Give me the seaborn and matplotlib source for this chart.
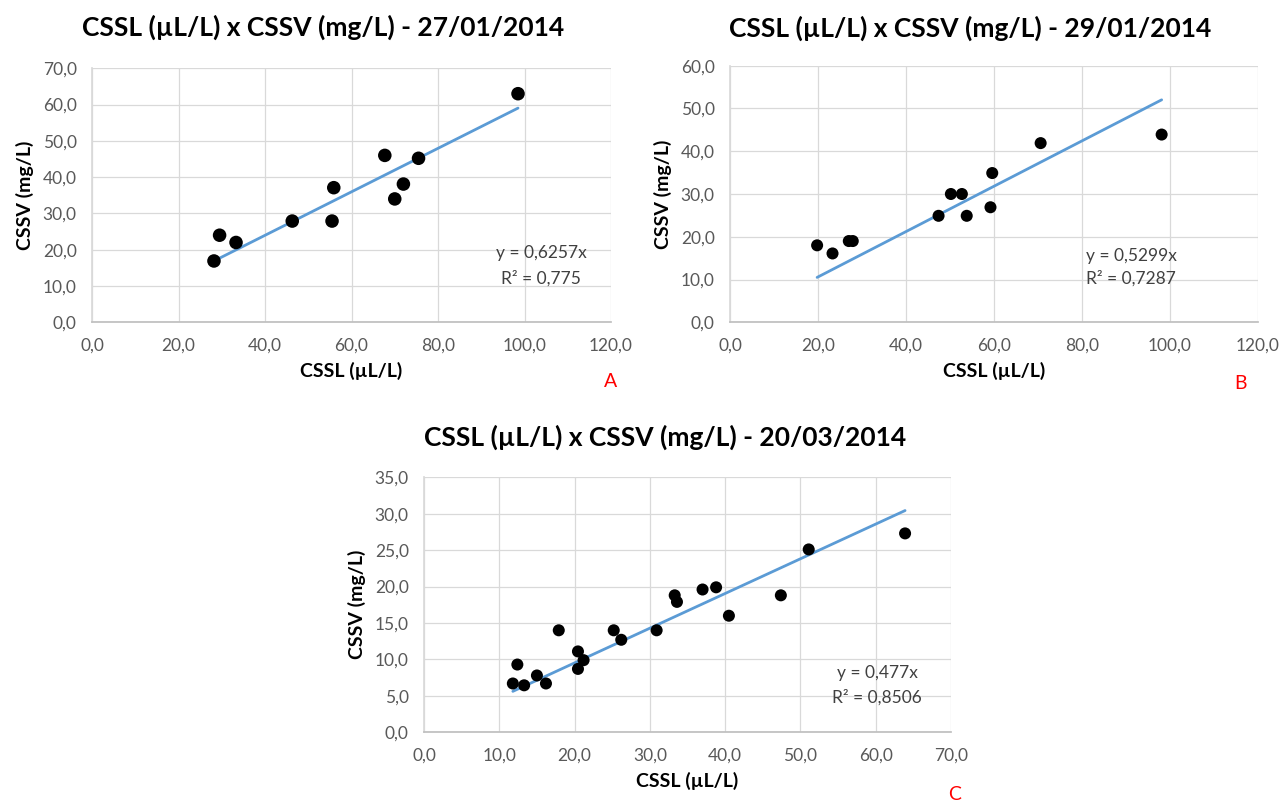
import numpy as np
import pandas as pd
import matplotlib
matplotlib.use("Agg")
import matplotlib.pyplot as plt
from matplotlib.ticker import MultipleLocator, FuncFormatter
import seaborn as sns

# ── data ─────────────────────────────────────────────────────────────────────
cssl_a = [28.2, 29.5, 33.3, 46.3, 55.5, 55.9, 67.7, 70.0, 72.0, 75.5, 98.5]
cssv_a = [16.9, 24.0, 22.0, 27.9, 27.9, 37.1, 46.0, 34.0, 38.1, 45.2, 63.0]

cssl_b = [19.8, 23.3, 27.0, 27.9, 47.4, 50.2, 52.7, 53.8, 59.2, 59.6, 70.6, 98.1]
cssv_b = [18.0, 16.1, 19.0, 19.0, 24.9, 30.0, 30.0, 24.9, 26.9, 34.9, 41.9, 43.9]

cssl_c = [11.8, 12.4, 13.3, 15.0, 16.2, 17.9, 20.45, 20.45, 21.2, 25.2, 26.2,
          30.9, 33.3, 33.6, 37.0, 38.8, 40.5, 47.4, 51.1, 63.9]
cssv_c = [6.7, 9.3, 6.45, 7.8, 6.7, 14.0, 11.1, 8.7, 9.9, 14.0, 12.7,
          14.0, 18.8, 17.9, 19.6, 19.9, 16.0, 18.8, 25.1, 27.3]

titles = ["CSSL (µL/L) x CSSV (mg/L) - 27/01/2014",
          "CSSL (µL/L) x CSSV (mg/L) - 29/01/2014",
          "CSSL (µL/L) x CSSV (mg/L) - 20/03/2014"]
equations = ["y = 0,6257x", "y = 0,5299x", "y = 0,477x"]
r2_labels = ["R² = 0,775", "R² = 0,7287", "R² = 0,8506"]
letters = ["A", "B", "C"]

sns.set_theme(style="whitegrid")
plt.rcParams["font.family"] = ["Lato", "DejaVu Sans"]

TICK = "#595959"
BLUE = "#5B9BD5"


def comma(v, _):
    return f"{v:.1f}".replace(".", ",")


def draw_panel(ax, x, y, xmax, ymax, xstep, ystep, eq, r2, eq_pos, msize):
    df = pd.DataFrame({"CSSL": x, "CSSV": y})
    # trendline through the origin, as Excel draws it
    slope = np.sum(df.CSSL * df.CSSV) / np.sum(df.CSSL ** 2)
    fit = pd.DataFrame({"CSSL": [df.CSSL.min(), df.CSSL.max()]})
    fit["CSSV"] = slope * fit.CSSL
    sns.lineplot(data=fit, x="CSSL", y="CSSV", ax=ax, color=BLUE,
                 linewidth=2.0, zorder=2)
    sns.scatterplot(data=df, x="CSSL", y="CSSV", ax=ax, color="black",
                    s=msize, edgecolor="none", zorder=3)

    ax.set_xlim(0, xmax); ax.set_ylim(0, ymax)
    ax.xaxis.set_major_locator(MultipleLocator(xstep))
    ax.yaxis.set_major_locator(MultipleLocator(ystep))
    ax.xaxis.set_major_formatter(FuncFormatter(comma))
    ax.yaxis.set_major_formatter(FuncFormatter(comma))
    ax.tick_params(axis="both", length=0, labelsize=12.5, colors=TICK, pad=11)
    ax.grid(True, color="#D9D9D9", linewidth=0.9)
    for side in ["top", "right"]:
        ax.spines[side].set_visible(False)
    ax.spines["left"].set_color("#D9D9D9")
    ax.spines["bottom"].set_color("#BFBFBF")
    ax.set_xlabel("CSSL (µL/L)", fontsize=14, fontweight="bold", color="black",
                  labelpad=6)
    ax.set_ylabel("CSSV (mg/L)", fontsize=14, fontweight="bold", color="black",
                  labelpad=6)

    ex, ey1, ey2 = eq_pos
    ax.text(ex, ey1, eq, transform=ax.transAxes, ha="center", va="center",
            fontsize=12.5, color="#404040")
    ax.text(ex, ey2, r2, transform=ax.transAxes, ha="center", va="center",
            fontsize=12.5, color="#404040")


W, H = 1280, 801
fig = plt.figure(figsize=(W / 100, H / 100), dpi=100)

ax_a = fig.add_axes([92 / W, 1 - 322.3 / H, 519 / W, 254 / H])
ax_b = fig.add_axes([730 / W, 1 - 322.3 / H, 528 / W, 256.6 / H])
ax_c = fig.add_axes([424 / W, 1 - 732.3 / H, 527 / W, 255 / H])

draw_panel(ax_a, cssl_a, cssv_a, 120, 70, 20, 10, equations[0], r2_labels[0],
           (0.865, 0.273, 0.174), 95)
draw_panel(ax_b, cssl_b, cssv_b, 120, 60, 20, 10, equations[1], r2_labels[1],
           (0.76, 0.258, 0.169), 75)
draw_panel(ax_c, cssl_c, cssv_c, 70, 35, 10, 5, equations[2], r2_labels[2],
           (0.86, 0.233, 0.138), 75)

# titles and panel letters
for (tx, ty), t in zip([(323, 27), (970, 28), (665, 437)], titles):
    fig.text(tx / W, 1 - ty / H, t, ha="center", va="center",
             fontsize=19, fontweight="bold", color="black")
for (lx, ly), l in zip([(611, 381), (1240, 383), (955, 795)], letters):
    fig.text(lx / W, 1 - ly / H, l, ha="center", va="center",
             fontsize=14, color="red")

fig.savefig("out.png", dpi=100)
plt.close(fig)
